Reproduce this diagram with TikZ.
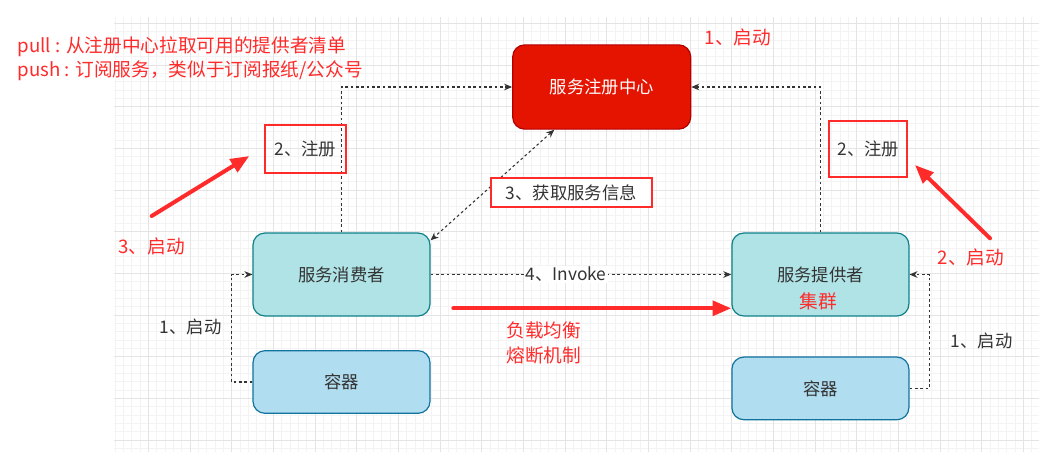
\documentclass[tikz,border=0pt]{standalone}
\usepackage{fontspec}
\setmainfont{Noto Sans CJK SC}
\usetikzlibrary{arrows.meta}
\definecolor{regred}{HTML}{E51400}
\definecolor{regedge}{HTML}{B20000}
\definecolor{tealfill}{HTML}{B0E3E6}
\definecolor{tealedge}{HTML}{0E8088}
\definecolor{bluefill}{HTML}{B1DDF0}
\definecolor{blueedge}{HTML}{10739E}
\definecolor{marknote}{HTML}{FF2A2A}
\definecolor{inktxt}{HTML}{333333}
\definecolor{gridmin}{HTML}{F3F3F3}
\definecolor{gridmaj}{HTML}{E4E4E4}

\begin{document}
\begin{tikzpicture}[x=0.75pt,y=-0.75pt,
  box/.style={rounded corners=9pt, line width=0.9pt, minimum width=132.75pt, text=inktxt, font=\fontsize{13}{15}\selectfont},
  svcbox/.style={box, fill=tealfill, draw=tealedge, minimum height=62.25pt},
  ctrbox/.style={box, fill=bluefill, draw=blueedge, minimum height=47pt},
  notebox/.style={draw=marknote, line width=1.5pt, text=inktxt, font=\fontsize{13}{15}\selectfont},
  redtxt/.style={text=marknote, font=\fontsize{14}{18.75}\selectfont},
  graytxt/.style={text=inktxt, font=\fontsize{13}{15}\selectfont},
  dashlink/.style={draw=inktxt, line width=0.8pt, dash pattern=on 2pt off 2pt, -{Stealth[length=6pt,width=5pt]}},
  bigarrow/.style={draw=marknote, line width=3pt, line cap=round, -{Triangle[length=14pt,width=11pt]}}]
\useasboundingbox (0,0) rectangle (1039,461);
% Draw the background grid
\begin{scope}
\clip (114,17) rectangle (1039,452);
\foreach \i in {0,...,112} \draw[gridmin, line width=0.4pt] ({106.67+8.333*\i},17) -- ++(0,435);
\foreach \j in {0,...,53} \draw[gridmin, line width=0.4pt] (114,{15+8.333*\j}) -- ++(925,0);
\foreach \i in {0,...,22} \draw[gridmaj, line width=0.6pt] ({106.67+41.67*\i},17) -- ++(0,435);
\foreach \j in {0,...,10} \draw[gridmaj, line width=0.6pt] (114,{23.33+41.67*\j}) -- ++(925,0);
\end{scope}
% Registry, consumer, provider and containers
\node[svcbox, fill=regred, draw=regedge, text=white, minimum width=133.5pt, minimum height=63.2pt] (reg) at (601.7,87) {服务注册中心};
\node[svcbox] (cons) at (341.5,274.5) {服务消费者};
\node[svcbox] (prov) at (820.4,274.5) {服务提供者};
\node[ctrbox] (contL) at (341.5,382) {容器};
\node[ctrbox] (contR) at (820.4,388.4) {容器};
\node[redtxt] (cluster) at (818.3,301.7) {集群};
% Dashed links
\draw[dashlink] (cons.north) |- (reg.west);
\draw[dashlink] (prov.north) |- (reg.east);
\draw[dashlink, {Stealth[length=6pt,width=5pt]}-{Stealth[length=6pt,width=5pt]}] (reg.222) -- (cons.21);
\draw[dashlink] (cons.east) -- node[pos=0.45, fill=white, graytxt, inner sep=1pt] (invoke) {4、Invoke} (prov.west);
\draw[dashlink] (contL.west) -- ++(-21,0) |- (cons.west);
\draw[dashlink] (contR.east) -- ++(20,0) |- (prov.east);
\node[graytxt] (startL) at (190.7,326.7) {1、启动};
\node[graytxt] (startR) at (981.7,340.7) {1、启动};
% Red notes
\node[notebox, minimum width=60.75pt, minimum height=35.8pt] (regnoteL) at (305.5,149) {2、注册};
\node[notebox, minimum width=58.5pt, minimum height=41.8pt] (regnoteR) at (868.3,149) {2、注册};
\node[notebox, fill=white, minimum width=120.75pt, minimum height=21.3pt, inner sep=0pt] (fetch) at (571.2,192.5) {3、获取服务信息};
\node[redtxt, anchor=west] (pullnote) at (13,46.7) {pull : 从注册中心拉取可用的提供者清单};
\node[redtxt, anchor=west] (pushnote) at (13,71) {push : 订阅服务，类似于订阅报纸/公众号};
\node[redtxt] (bootReg) at (738,37) {1、启动};
\node[redtxt] (bootCons) at (151.5,246) {3、启动};
\node[redtxt] (bootProv) at (971,257) {2、启动};
\node[redtxt, align=left, anchor=west] (lbnote) at (501.7,342.5) {负载均衡\\熔断机制};
% Red arrows
\coordinate (tailL) at (151.7,216);
\coordinate (tipL) at (249.3,156);
\coordinate (tailR) at (990,238.3);
\coordinate (tipR) at (915,165);
\coordinate (tailM) at (453.3,308.3);
\draw[bigarrow] (tailL) -- (tipL);
\draw[bigarrow] (tailR) -- (tipR);
\draw[bigarrow] (tailM) -- (tailM -| prov.west);
\end{tikzpicture}
\end{document}
